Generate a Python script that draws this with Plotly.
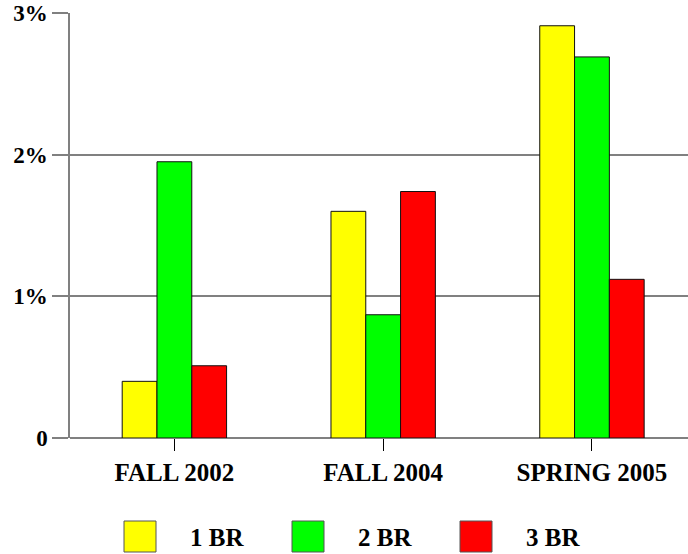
import plotly.graph_objects as go

categories = ["FALL 2002", "FALL 2004", "SPRING 2005"]
series_names = ["1 BR", "2 BR", "3 BR"]
br1 = [0.40, 1.60, 2.91]
br2 = [1.95, 0.87, 2.69]
br3 = [0.51, 1.74, 1.12]
y_tickvals = [0, 1, 2, 3]
y_ticktext = ["0", "1%", "2%", "3%"]

colors = ["#ffff00", "#00ff00", "#ff0000"]
FONT = "Liberation Serif"

fig = go.Figure()
for name, vals, col in zip(series_names, [br1, br2, br3], colors):
    fig.add_trace(go.Bar(x=categories, y=vals, name=name, marker=dict(color=col, line=dict(color="#111111", width=1)),
                         showlegend=False))

W, H = 688, 554
ml, mr, mt, mb = 70, 0, 13, 116
pw, ph = W - ml - mr, H - mt - mb

def px(x):
    return (x - ml) / pw

def py(y):
    return (H - mb - y) / ph

# custom legend (large swatches)
box_x = [124, 292, 460]
for name, col, bx in zip(series_names, colors, box_x):
    fig.add_shape(type="rect", xref="paper", yref="paper",
                  x0=px(bx), x1=px(bx + 32), y0=py(552), y1=py(521),
                  fillcolor=col, line=dict(color="#555555", width=1))
    fig.add_annotation(xref="paper", yref="paper", x=px(bx + 64), y=py(537),
                       text=name, showarrow=False, xanchor="left", yanchor="middle",
                       font=dict(family=FONT, size=25, color="black", weight="bold"))

fig.update_layout(
    width=W, height=H,
    margin=dict(l=ml, r=mr, t=mt, b=mb),
    plot_bgcolor="white", paper_bgcolor="white",
    barmode="group", bargap=0.5, bargroupgap=0,
    font=dict(family=FONT, color="black", weight="bold"),
)
fig.update_xaxes(
    range=[-0.5, 2.46], showgrid=False, showline=False, zeroline=False,
    ticks="outside", ticklen=12, tickwidth=1, tickcolor="black",
    tickfont=dict(family=FONT, size=25, color="black", weight="bold"),
)
fig.update_yaxes(
    range=[0, 3], tickvals=y_tickvals, ticktext=y_ticktext,
    showgrid=True, gridcolor="#808080", gridwidth=1.5,
    zeroline=True, zerolinecolor="#808080", zerolinewidth=1.5,
    showline=True, linecolor="#808080", linewidth=1.5,
    ticks="outside", ticklen=16, tickwidth=1.5, tickcolor="#808080",
    tickfont=dict(family=FONT, size=23, color="black", weight="bold"),
)

fig.write_html("out.html", config={"displayModeBar": False},
               post_script="document.body.style.margin='0';document.body.style.overflow='hidden';")
